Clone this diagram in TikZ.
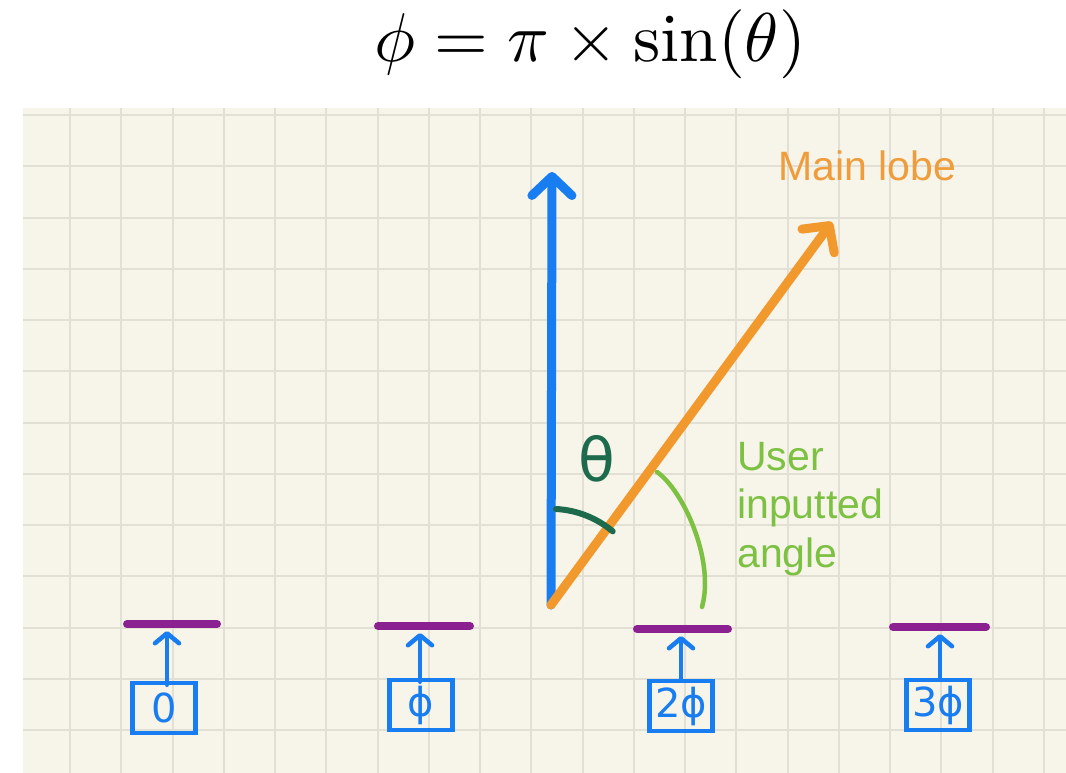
\documentclass[tikz,border=0pt]{standalone}
\usepackage{graphicx}
\usepackage{fontspec}
\usetikzlibrary{arrows.meta}
\newfontfamily\lsans{Liberation Sans}
\newfontfamily\dvsans{DejaVu Sans}
\definecolor{paper}{RGB}{247,244,233}
\definecolor{gridc}{RGB}{226,223,212}
\definecolor{penblue}{RGB}{24,125,240}
\definecolor{penorange}{RGB}{242,153,46}
\definecolor{txtorange}{RGB}{239,157,60}
\definecolor{dkgreen}{RGB}{29,107,76}
\definecolor{ltgreen}{RGB}{125,193,67}
\definecolor{penpurple}{RGB}{139,33,144}
\begin{document}
\begin{tikzpicture}[x=1pt,y=-1pt,
  gridline/.style={draw=gridc, line width=2pt},
  bigarrow/.style={line width=9pt, line cap=round, -{Straight Barb[length=19pt, width=40pt, round]}},
  smallarr/.style={draw=penblue, line width=4.5pt, line cap=round, -{Straight Barb[length=10pt, width=24pt, round]}},
  barline/.style={draw=penpurple, line width=8pt, line cap=round},
  numbox/.style={draw=penblue, line width=4.5pt, minimum width=63pt, minimum height=50pt, inner sep=0pt, text=penblue, font=\dvsans\fontsize{40}{42}\selectfont},
  handtext/.style={font=\lsans\fontsize{41}{48.5}\selectfont}]
\useasboundingbox (0,0) rectangle (1066,773);
\fill[white] (0,0) rectangle (1066,773);
\fill[paper] (23,108) rectangle (1066,773);
\foreach \i in {0,...,19} \draw[gridline] ({70+51.25*\i},108) -- ({70+51.25*\i},773);
\foreach \j in {0,...,12} \draw[gridline] (23,{115+51.25*\j}) -- (1066,{115+51.25*\j});

% formula
\node[anchor=base, inner sep=0pt] (formula) at (590,62) {\scalebox{6.9}{$\phi = \pi \times \sin(\theta)$}};

% main vectors
\coordinate (O) at (551,605);
\coordinate (up) at (552,172);
\coordinate (lobe) at (832,222);
\draw[bigarrow, penblue] (O) -- (up);
\draw[bigarrow, penorange] (O) -- (lobe);
\node[anchor=base west, handtext, text=txtorange, inner sep=0pt] (ml) at (778,180) {Main lobe};

% theta
\draw[dkgreen, line width=6pt, line cap=round] (O) ++(5,-96) arc[start angle=87, end angle=50, radius=96pt];
\node[text=dkgreen, font=\dvsans\fontsize{60}{62}\selectfont, inner sep=0pt] (theta) at (597,459) {θ};

% user inputted angle
\draw[ltgreen, line width=4.5pt, line cap=round] (657,472) .. controls (683,490) and (715,560) .. (702,607);
\node[anchor=base west, align=left, handtext, text=ltgreen, inner sep=0pt] (ui) at (737,567) {User\\inputted\\angle};

% elements
\draw[barline] (127,624) -- (217,624);
\draw[barline] (378,626) -- (470,626);
\draw[barline] (637,629) -- (728,629);
\draw[barline] (893,627) -- (986,627);
\coordinate (t0) at (167,631);
\coordinate (t1) at (420,633);
\coordinate (t2) at (681,636);
\coordinate (t3) at (940,634);
\node[numbox] (b0) at (164,708) {0};
\node[numbox] (b1) at (421,705) {ϕ};
\node[numbox] (b2) at (681,706) {2ϕ};
\node[numbox] (b3) at (938,705) {3ϕ};
\draw[smallarr, shorten <=-4pt] (b0.north -| t0) -- (t0);
\draw[smallarr, shorten <=-4pt] (b1.north -| t1) -- (t1);
\draw[smallarr] (b2.north -| t2) -- (t2);
\draw[smallarr] (b3.north -| t3) -- (t3);
\end{tikzpicture}
\end{document}
